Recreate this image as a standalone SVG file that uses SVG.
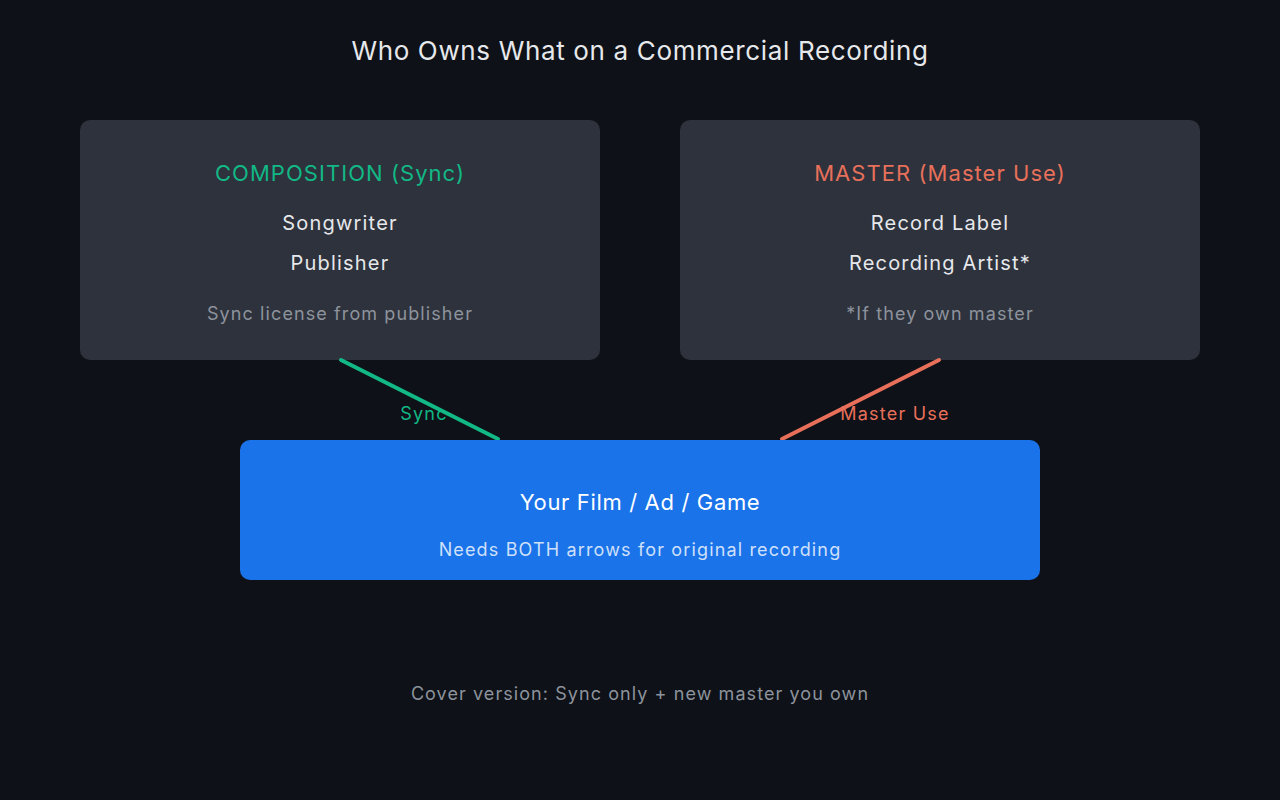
<svg xmlns="http://www.w3.org/2000/svg" width="1280" height="800" viewBox="0 0 1280 800">
<style>
text{font-family:Inter,"Noto Sans","Liberation Sans",sans-serif;text-anchor:middle}
.title{font-size:26px;fill:#e6e8eb;letter-spacing:0.65px}
.box{fill:#2d323c}
.h{font-size:22px;letter-spacing:1.05px}
.item{font-size:20px;fill:#e6e8eb;letter-spacing:1.2px}
.note{font-size:18px;fill:#8d939c;letter-spacing:1.1px}
.lbl{font-size:18px;letter-spacing:1.2px}
</style>
<rect width="1280" height="800" fill="#0e1117"/>
<text class="title" x="640" y="60">Who Owns What on a Commercial Recording</text>
<g id="composition">
<rect class="box" x="80" y="120" width="520" height="240" rx="10"/>
<text class="h" x="340" y="181" fill="#12b886">COMPOSITION (Sync)</text>
<text class="item" x="340" y="230">Songwriter</text>
<text class="item" x="340" y="270">Publisher</text>
<text class="note" x="340" y="320">Sync license from publisher</text>
</g>
<g id="master">
<rect class="box" x="680" y="120" width="520" height="240" rx="10"/>
<text class="h" x="940" y="181" fill="#e8705a">MASTER (Master Use)</text>
<text class="item" x="940" y="230">Record Label</text>
<text class="item" x="940" y="270">Recording Artist*</text>
<text class="note" x="940" y="320">*If they own master</text>
</g>
<g id="connectors" stroke-width="4" stroke-linecap="round">
<line x1="341" y1="360" x2="498" y2="439" stroke="#12b886"/>
<line x1="939" y1="360" x2="782" y2="439" stroke="#e8705a"/>
<text class="lbl" x="424" y="420" fill="#12b886" stroke="none">Sync</text>
<text class="lbl" x="895" y="420" fill="#e8705a" stroke="none">Master Use</text>
</g>
<g id="project">
<rect x="240" y="440" width="800" height="140" rx="10" fill="#1a73e8"/>
<text x="640" y="510" font-size="22" fill="#ffffff" letter-spacing="0.65">Your Film / Ad / Game</text>
<text x="640" y="556" font-size="18" fill="#cfe0fa" letter-spacing="1.15">Needs BOTH arrows for original recording</text>
</g>
<text x="640" y="700" font-size="18" fill="#8d939c" letter-spacing="1.07">Cover version: Sync only + new master you own</text>
</svg>
